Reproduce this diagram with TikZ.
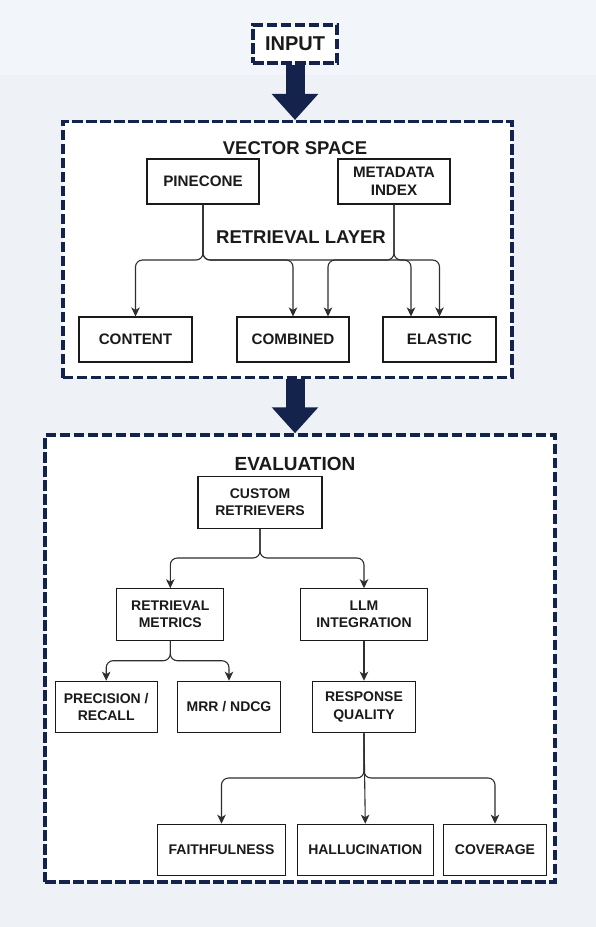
\documentclass[tikz,border=0pt]{standalone}
\usepackage{fontspec}
\setmainfont{Liberation Sans}
\usetikzlibrary{arrows.meta}
\definecolor{navy}{HTML}{13234B}
\definecolor{bgblue}{HTML}{EEF2F7}
\definecolor{bgtop}{HTML}{F2F5F9}
\definecolor{ink}{HTML}{1A1A1A}
\definecolor{wirecol}{HTML}{2E2E2E}

\begin{document}
\begin{tikzpicture}[x=1pt,y=-1pt,
    group/.style={draw=navy,line width=3.5pt,dash pattern=on 10.5pt off 3.5pt,fill=white,inner sep=0pt},
    title/.style={font=\fontsize{18.5}{22}\selectfont\bfseries,text=ink,inner sep=0pt},
    box/.style={draw=ink,line width=1.1pt,fill=white,align=center,inner sep=0pt,text=ink},
    big/.style={box,font=\fontsize{15.2}{18.5}\selectfont\bfseries,minimum height=45pt},
    small/.style={box,font=\fontsize{14}{17.3}\selectfont\bfseries,minimum height=51.5pt},
    wire/.style={draw=wirecol,line width=1.1pt,rounded corners=7pt,-{Stealth[length=9pt,width=8.5pt,inset=2.5pt]}},
    flow/.style={draw=navy,line width=19pt,-{Triangle[length=26pt,width=45pt]}}]

\useasboundingbox (0,0) rectangle (596,927);
\fill[bgblue] (0,0) rectangle (596,927);
\fill[bgtop] (0,0) rectangle (596,75);

\node[group,minimum width=449pt,minimum height=256pt] (vsbox) at (287.3,249.7) {};
\node[group,minimum width=510pt,minimum height=447pt] (evbox) at (300,658.5) {};
\node[group,minimum width=84pt,minimum height=38pt,text=ink,
      font=\fontsize{20}{24}\selectfont\bfseries] (input) at (295,44) {INPUT};

\draw[flow] (input.south) -- (input.south |- vsbox.north);
\draw[flow] (input.south |- vsbox.south) -- (input.south |- evbox.north);

\node[title] (vstitle) at (295,148) {VECTOR SPACE};
\node[big,minimum width=112pt] (pine) at (203,181.5) {PINECONE};
\node[big,minimum width=112pt] (meta) at (394,181.5) {METADATA\\INDEX};
\node[title] (rltitle) at (301,237.5) {RETRIEVAL LAYER};
\node[big,minimum width=113pt] (content) at (135.5,339.5) {CONTENT};
\node[big,minimum width=112pt] (comb) at (293,339.5) {COMBINED};
\node[big,minimum width=113pt] (elastic) at (439.5,339.5) {ELASTIC};

\coordinate (bus1) at (0,260);
\draw[wire] (pine.south) -- (pine.south |- bus1) -| (content.north);
\draw[wire] (pine.south) -- (pine.south |- bus1) -| (comb.north);
\draw[wire] (pine.south) -- (pine.south |- bus1) -| (elastic.north);
\draw[wire] (meta.south) -- (meta.south |- bus1) -| ([xshift=35pt]comb.north);
\draw[wire] (meta.south) -- (meta.south |- bus1) -| ([xshift=-28.5pt]elastic.north);

\node[title,font=\fontsize{19}{23}\selectfont\bfseries] (evtitle) at (295,464) {EVALUATION};
\node[small,minimum width=124pt] (custom) at (260,502.5) {CUSTOM\\RETRIEVERS};
\node[small,minimum width=107pt] (rm) at (170.3,614.5) {RETRIEVAL\\METRICS};
\node[small,minimum width=127pt] (llm) at (364,614.5) {LLM\\INTEGRATION};
\node[small,minimum width=102pt] (pr) at (106.2,707) {PRECISION /\\RECALL};
\node[small,minimum width=103pt] (mrr) at (229,707) {MRR / NDCG};
\node[small,minimum width=103pt] (rq) at (364,707) {RESPONSE\\QUALITY};
\node[small,minimum width=128pt] (faith) at (221.5,850) {FAITHFULNESS};
\node[small,minimum width=136pt] (hall) at (365.3,850) {HALLUCINATION};
\node[small,minimum width=103pt] (cov) at (495,850) {COVERAGE};

\coordinate (bus2) at (0,558);
\draw[wire] (custom.south) -- (custom.south |- bus2) -| (rm.north);
\draw[wire] (custom.south) -- (custom.south |- bus2) -| (llm.north);
\coordinate (bus3) at (0,660.7);
\draw[wire] (rm.south) -- (rm.south |- bus3) -| (pr.north);
\draw[wire] (rm.south) -- (rm.south |- bus3) -| (mrr.north);
\draw[wire] (llm.south) -- (rq.north);
\coordinate (bus4) at (0,778);
\draw[wire] (rq.south) -- (rq.south |- bus4) -| (faith.north);
\draw[wire] (rq.south) -- (hall.north);
\draw[wire] (rq.south) -- (rq.south |- bus4) -| (cov.north);

\end{tikzpicture}
\end{document}
